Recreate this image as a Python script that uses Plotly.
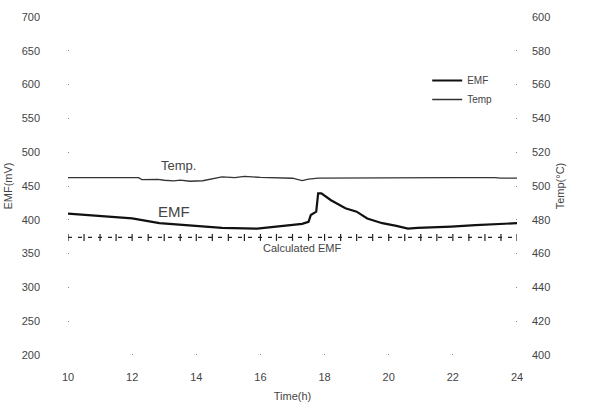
import plotly.graph_objects as go

# EMF (mV) vs time (h)
emf_t = [10.0, 11.0, 12.0, 12.85, 14.0, 14.8, 15.9, 16.6, 17.3, 17.5, 17.57, 17.74, 17.8, 17.9,
         18.2, 18.65, 19.0, 19.33, 19.8, 20.24, 20.6, 20.9, 21.6, 21.95, 22.7, 23.9, 24.0]
emf_v = [409, 406, 402, 395, 391, 388, 387, 390, 394, 397, 407, 412, 439, 439,
         429, 417, 412, 402, 395, 391, 387, 388, 389, 390, 392, 395, 395]

# Temperature (°C) vs time (h)
temp_t = [10.0, 12.2, 12.3, 12.8, 13.0, 13.3, 13.5, 13.8, 14.2, 14.5, 14.8, 15.2, 15.5,
          16.0, 16.5, 17.0, 17.3, 17.5, 17.8, 18.5, 20.0, 22.0, 23.3, 23.5, 24.0]
temp_v = [504.9, 504.9, 503.8, 503.9, 503.4, 503.0, 503.5, 502.8, 503.1, 504.4, 505.4, 505.0, 505.7,
          505.1, 504.9, 504.6, 503.2, 504.1, 504.7, 504.8, 504.8, 504.9, 504.9, 504.7, 504.7]

# Calculated EMF (mV)
calc_t = [10 + 0.5 * i for i in range(29)]
calc_v = [374] * 29

x_ticks = [10, 12, 14, 16, 18, 20, 22, 24]
y1_ticks = [200, 250, 300, 350, 400, 450, 500, 550, 600, 650, 700]
y2_ticks = [400, 420, 440, 460, 480, 500, 520, 540, 560, 580, 600]

FONT = "Liberation Sans, Arial, sans-serif"
TXT = "#444444"

fig = go.Figure()
fig.add_trace(go.Scatter(x=emf_t, y=emf_v, mode="lines", name="EMF",
                         line=dict(color="#111111", width=2.2), yaxis="y"))
fig.add_trace(go.Scatter(x=temp_t, y=temp_v, mode="lines", name="Temp",
                         line=dict(color="#333333", width=1.3), yaxis="y2"))
fig.add_trace(go.Scatter(x=calc_t, y=calc_v, mode="lines+markers", name="Calculated EMF",
                         showlegend=False,
                         line=dict(color="#222222", width=1.2, dash="4px,6px"),
                         marker=dict(symbol="line-ns-open", size=5,
                                     line=dict(color="#222222", width=1.2)),
                         yaxis="y"))

fig.add_annotation(x=13.45, y=481, text="Temp.", showarrow=False,
                   font=dict(size=13, color=TXT, family=FONT))
fig.add_annotation(x=13.3, y=413, text="EMF", showarrow=False,
                   font=dict(size=15, color=TXT, family=FONT))
fig.add_annotation(x=17.3, y=358, text="Calculated EMF", showarrow=False,
                   font=dict(size=11, color=TXT, family=FONT))

fig.update_layout(
    width=603, height=412,
    margin=dict(l=68, r=86, t=17, b=57),
    paper_bgcolor="white", plot_bgcolor="white",
    font=dict(family=FONT, size=11, color=TXT),
    showlegend=True,
    legend=dict(x=0.80, y=0.855, xanchor="left", yanchor="top",
                bgcolor="rgba(0,0,0,0)", font=dict(size=10, color=TXT),
                itemwidth=30, tracegroupgap=0),
    xaxis=dict(range=[10, 24], tickvals=x_ticks, showgrid=False, zeroline=False,
               showline=False, ticks="inside", ticklen=1, tickcolor="#888",
               ticklabelstandoff=14, automargin=False,
               title=dict(text="Time(h)", font=dict(size=11, color=TXT), standoff=10)),
    yaxis=dict(range=[200, 700], tickvals=y1_ticks, showgrid=False, zeroline=False,
               showline=False, ticks="inside", ticklen=1, tickcolor="#888",
               ticklabelstandoff=27, automargin=False,
               title=dict(text="EMF(mV)", font=dict(size=11, color=TXT), standoff=6)),
    yaxis2=dict(range=[400, 600], tickvals=y2_ticks, overlaying="y", side="right",
                showgrid=False, zeroline=False, showline=False, ticks="inside",
                ticklen=1, tickcolor="#888", ticklabelstandoff=14, automargin=False,
                title=dict(text="Temp(°C)", font=dict(size=11, color=TXT), standoff=6)),
)

fig.write_html("out.html")
